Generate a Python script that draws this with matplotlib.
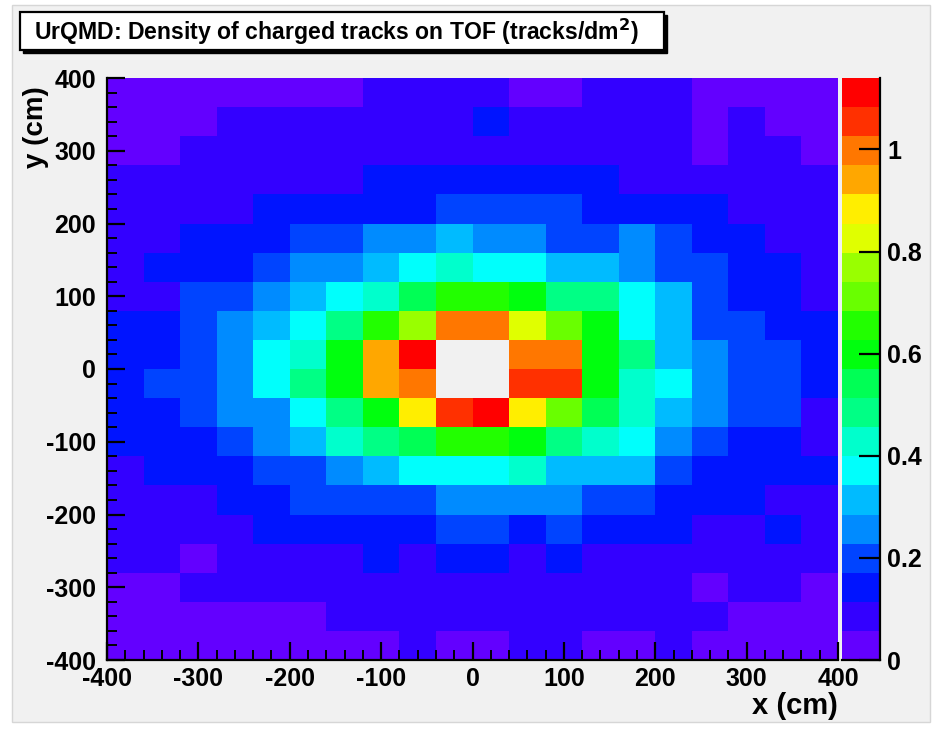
import colorsys
import numpy as np
import matplotlib
matplotlib.use("Agg")
import matplotlib.pyplot as plt
from matplotlib.colors import ListedColormap, Normalize
from matplotlib.patches import Rectangle

# ---------------- data ----------------
title = "UrQMD: Density of charged tracks on TOF (tracks/dm$^\\mathbf{2}$)"
x_edges = np.arange(-400, 401, 40)   # cm
y_edges = np.arange(-400, 401, 40)   # cm
z_max = 1.14                         # colour-axis maximum (tracks/dm^2)
n_levels = 20
cbar_ticks = [0, 0.2, 0.4, 0.6, 0.8, 1.0]
cbar_ticklabels = ["0", "0.2", "0.4", "0.6", "0.8", "1"]
x_ticks = [-400, -300, -200, -100, 0, 100, 200, 300, 400]
y_ticks = [-400, -300, -200, -100, 0, 100, 200, 300, 400]

# density per bin, rows from top (y = 360..400) to bottom (y = -400..-360)
density_rows = [
    [.03,.03,.03,.03,.03,.03,.03,.09,.09,.09,.09,.03,.03,.09,.09,.09,.03,.03,.03,.03],
    [.03,.03,.03,.09,.09,.09,.09,.09,.09,.09,.14,.09,.09,.09,.09,.09,.03,.09,.03,.03],
    [.03,.03,.09,.09,.09,.09,.09,.09,.09,.09,.09,.09,.09,.09,.09,.09,.03,.09,.09,.03],
    [.09,.09,.09,.09,.09,.09,.09,.14,.14,.14,.14,.14,.14,.14,.09,.09,.09,.09,.09,.09],
    [.09,.09,.09,.09,.14,.14,.14,.14,.14,.20,.20,.20,.20,.14,.14,.14,.14,.09,.09,.09],
    [.09,.09,.14,.14,.14,.20,.20,.26,.26,.31,.26,.26,.20,.20,.26,.20,.14,.14,.09,.09],
    [.09,.14,.14,.14,.20,.26,.26,.31,.37,.43,.37,.37,.31,.31,.26,.20,.20,.14,.14,.09],
    [.09,.09,.20,.20,.26,.31,.37,.43,.54,.66,.66,.60,.48,.48,.37,.31,.20,.14,.14,.09],
    [.14,.14,.20,.26,.31,.37,.48,.66,.77,1.00,1.00,.83,.71,.60,.37,.31,.20,.20,.14,.14],
    [.14,.14,.20,.26,.37,.43,.60,.94,1.11,1.20,1.20,1.00,1.00,.60,.48,.31,.26,.20,.20,.14],
    [.14,.20,.20,.26,.37,.48,.60,.94,1.00,1.20,1.20,1.05,1.05,.60,.43,.37,.26,.20,.20,.14],
    [.14,.14,.20,.26,.26,.37,.48,.60,.88,1.05,1.11,.88,.71,.54,.43,.31,.26,.20,.20,.09],
    [.14,.14,.14,.20,.26,.31,.43,.48,.54,.66,.66,.60,.48,.43,.37,.26,.20,.14,.14,.09],
    [.09,.14,.14,.14,.20,.20,.26,.31,.37,.37,.37,.43,.31,.31,.31,.20,.14,.14,.14,.14],
    [.09,.09,.09,.14,.14,.20,.20,.20,.20,.26,.26,.26,.26,.20,.20,.14,.14,.14,.09,.09],
    [.09,.09,.09,.09,.14,.14,.14,.14,.14,.20,.20,.14,.20,.14,.14,.14,.09,.09,.14,.09],
    [.09,.09,.03,.09,.09,.09,.09,.14,.09,.14,.14,.09,.14,.09,.09,.09,.09,.09,.09,.09],
    [.03,.03,.09,.09,.09,.09,.09,.09,.09,.09,.09,.09,.09,.09,.09,.09,.03,.09,.09,.03],
    [.03,.03,.03,.03,.03,.03,.09,.09,.09,.09,.09,.09,.09,.09,.09,.09,.09,.03,.03,.03],
    [.03,.03,.03,.03,.03,.03,.03,.03,.09,.03,.03,.09,.09,.03,.03,.09,.03,.03,.03,.03],
]

# ---------------- style ----------------
W, H = 946, 729
FONT = "Liberation Sans"
CANVAS = "#f1f1f1"


def fx(px):
    return px / W


def fy(py):
    return 1 - py / H


# ROOT "pretty" palette (50 HLS colours) sampled for 20 contour levels
pal50 = []
for i in range(50):
    hue = 280 - (i + 1) * (280 / 50)
    pal50.append(colorsys.hls_to_rgb(hue / 360.0, 0.5, 1.0))
colors = [pal50[int((j + 0.99) * 50 / n_levels)] for j in range(n_levels)]
cmap = ListedColormap(colors)
cmap.set_over(CANVAS)

fig = plt.figure(figsize=(W / 100, H / 100), dpi=100)
fig.patch.set_facecolor("white")
fig.patches.append(Rectangle((fx(12), fy(722)), fx(930) - fx(12), fy(5) - fy(722),
                             transform=fig.transFigure, facecolor=CANVAS,
                             edgecolor="#d6d6d6", lw=1.0, zorder=-10))

ax = fig.add_axes([fx(107), fy(660), fx(838) - fx(107), fy(78) - fy(660)])
ax.set_facecolor(CANVAS)
Z = np.array(density_rows)[::-1]
mesh = ax.pcolormesh(x_edges, y_edges, Z, cmap=cmap,
                     norm=Normalize(vmin=0, vmax=z_max), shading="flat")
ax.set_xlim(-400, 400)
ax.set_ylim(-400, 400)
for s in ["top", "right"]:
    ax.spines[s].set_visible(False)
for s in ["left", "bottom"]:
    ax.spines[s].set_linewidth(1.6)
    ax.spines[s].set_color("black")
ax.set_xticks(x_ticks)
ax.set_yticks(y_ticks)
ax.set_xticks(np.arange(-400, 401, 20), minor=True)
ax.set_yticks(np.arange(-400, 401, 20), minor=True)
ax.tick_params(which="major", direction="in", length=13, width=1.6,
               top=False, right=False, labelsize=18, pad=5)
ax.tick_params(which="minor", direction="in", length=7, width=1.4,
               top=False, right=False)
ax.tick_params(axis="y", pad=8)
ax.set_xticklabels([str(v) for v in x_ticks], fontfamily=FONT, fontweight="bold")
ax.set_yticklabels([str(v) for v in y_ticks], fontfamily=FONT, fontweight="bold")

fig.text(fx(838), fy(706), "x (cm)", ha="right", va="center",
         fontsize=21, fontfamily=FONT, fontweight="bold")
fig.text(fx(36), fy(86), "y (cm)", ha="center", va="top", rotation=90,
         fontsize=20, fontfamily=FONT, fontweight="bold")

# colour bar
cax = fig.add_axes([fx(842), fy(660), fx(880) - fx(842), fy(78) - fy(660)])
cb = fig.colorbar(mesh, cax=cax, ticks=cbar_ticks)
cb.outline.set_visible(False)
cb.set_ticklabels(cbar_ticklabels)
cax.tick_params(direction="in", length=15, width=1.6, labelsize=18, pad=5)
for lab in cax.get_yticklabels():
    lab.set_fontfamily(FONT)
    lab.set_fontweight("bold")
cax.plot([1, 1], [0, 1], transform=cax.transAxes, color="black", lw=1.6,
         clip_on=False)
cax.plot([0, 1], [0, 0], transform=cax.transAxes, color="black", lw=1.6,
         clip_on=False)

# title box with shadow
bx0, by0, bx1, by1 = 20, 12, 664, 50
fig.patches.append(Rectangle((fx(bx0 + 3), fy(by1 + 3)), fx(bx1) - fx(bx0),
                             fy(by0) - fy(by1), transform=fig.transFigure,
                             facecolor="black", edgecolor="black", zorder=5))
fig.patches.append(Rectangle((fx(bx0), fy(by1)), fx(bx1) - fx(bx0),
                             fy(by0) - fy(by1), transform=fig.transFigure,
                             facecolor="white", edgecolor="black", lw=1.6,
                             zorder=6))
t = fig.text(fx(34), fy((by0 + by1) / 2 + 1), title, ha="left",
             va="center", fontsize=16.6, fontfamily=FONT, fontweight="bold",
             zorder=7)

fig.savefig("out.png", dpi=100, facecolor=fig.get_facecolor())
